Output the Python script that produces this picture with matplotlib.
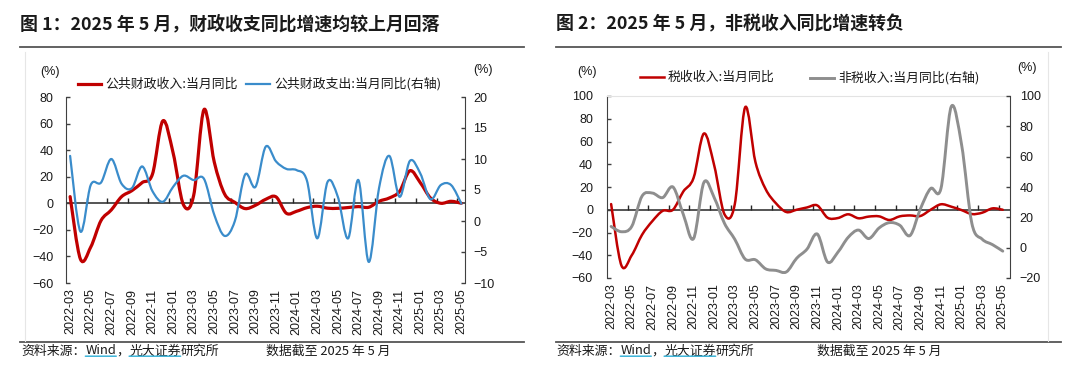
import matplotlib
matplotlib.use("Agg")

import matplotlib.pyplot as plt
import pandas as pd

from matplotlib.path import Path
from matplotlib.patches import PathPatch
from matplotlib.lines import Line2D

plt.rcParams['font.family'] = ['Liberation Sans', 'Noto Sans CJK SC']
cjk = ['Noto Sans CJK SC', 'DejaVu Sans']

months = list(pd.date_range('2022-03-01', '2025-05-01', freq='MS').strftime('%Y-%m'))

# figure 1: public budget revenue / expenditure, monthly yoy (%)
revenue = [5, -42, -33, -13, -5, 5, 9.5, 15.6, 22, 62, 38, -1, 6, 70.5, 31, 7,
           0.7, -4, -1.5, 3, 4.8, -7.5, -6, -3.3, -2.2, -3.7, -3.8, -3.2, -2.5,
           -3, 1.5, 4, 9, 24.5, 15.6, 4, 0, 1.5, 0]
expenditure = [10.5, -1.7, 5.8, 6.2, 10, 6, 5.3, 8.8, 4.8, 3.1, 5.5, 7.3, 6.6,
               6.8, 1.0, -2.4, 0, 7.5, 5.5, 12, 9.6, 8.4, 8.2, 6.5, -2.8, 6.3,
               3.9, -2.8, 6.6, -6.6, 5.3, 10.5, 3.9, 9.7, 7.7, 3.5, 5.8, 5.8, 2.8]

# figure 2: tax / non-tax revenue, monthly yoy (%)
tax = [5, -49, -40, -22, -10, -1, 0, 16, 28, 67, 39, -4, 5, 90, 42, 18, 5.6,
       -2, 0, 2, 3.8, -7, -7.3, -4, -7.5, -6, -5.8, -9, -5.8, -5, -5.5, 0,
       4.8, 2.7, -0.3, -3.8, -2.6, 1.2, 0]
nontax = [14, 10.5, 14, 34, 36, 33, 40, 22, 6, 43, 33, 16, 5.5, -7.5, -8, -14,
          -15, -16, -7, -1, 9, -9.5, -3, 6.8, 11.6, 6, 13, 16.5, 14.8, 8, 25.5,
          39, 39, 93, 68, 16, 5.6, 2, -2.3]

titles = ['图 1：2025 年 5 月，财政收支同比增速均较上月回落',
          '图 2：2025 年 5 月，非税收入同比增速转负']
legend1 = ['公共财政收入:当月同比', '公共财政支出:当月同比(右轴)']
legend2 = ['税收收入:当月同比', '非税收入:当月同比(右轴)']

RED = '#C00000'
BLUE = '#3A8CCB'
GREY = '#8E8E8E'
DARK = '#404040'
W, H = 1080, 375


def smooth_path(ys):
    # Excel style smoothed line: cubic bezier through every point
    xs = list(range(len(ys)))
    n = len(xs)
    verts = [(xs[0], ys[0])]
    codes = [Path.MOVETO]
    for k in range(n - 1):
        a = k - 1 if k > 0 else k
        d = k + 2 if k + 2 < n else k + 1
        c1 = (xs[k] + (xs[k + 1] - xs[a]) / 6, ys[k] + (ys[k + 1] - ys[a]) / 6)
        c2 = (xs[k + 1] - (xs[d] - xs[k]) / 6, ys[k + 1] - (ys[d] - ys[k]) / 6)
        verts += [c1, c2, (xs[k + 1], ys[k + 1])]
        codes += [Path.CURVE4] * 3
    return Path(verts, codes)


def fx(px):
    return px / W


def fy(py):
    return 1 - py / H


def draw_chart(box, left, right, lcolor, rcolor, lw, ylim_l, ylim_r, yt_l, yt_r,
               xmax, pads, top_border):
    ax = fig.add_axes(box)
    axr = ax.twinx()
    ax.set_xlim(-0.4, xmax)
    ax.set_ylim(*ylim_l)
    axr.set_ylim(*ylim_r)
    ax.set_yticks(yt_l)
    axr.set_yticks(yt_r)
    ax.set_xticks(range(0, len(months), 2))
    ax.set_xticklabels(months[::2], rotation=90)
    ax.tick_params(axis='x', length=0, pad=4, labelsize=9, colors='#1a1a1a')
    ax.tick_params(axis='y', direction='in', length=3, width=1, color=DARK,
                   pad=pads[0], labelsize=9, labelcolor='#1a1a1a')
    axr.tick_params(axis='y', direction='in', length=3, width=1, color=DARK,
                    pad=pads[1], labelsize=9, labelcolor='#1a1a1a')
    for a in (ax, axr):
        for s in a.spines.values():
            s.set_visible(False)
    ax.spines['left'].set_visible(True)
    ax.spines['left'].set_color(DARK)
    axr.spines['right'].set_visible(True)
    axr.spines['right'].set_color(DARK)
    if top_border:
        ax.spines['top'].set_visible(True)
        ax.spines['top'].set_color('#E3E3E3')
        ax.spines['top'].set_linewidth(0.8)
    ax.axhline(0, color='#262626', lw=1.1, zorder=1)
    ticks = [i - 0.4 for i in range(2, len(months), 2)]
    ax.plot(ticks, [0] * len(ticks), linestyle='none', marker=2, markersize=3.5,
            markeredgewidth=1, color='#262626', zorder=1)
    ax.add_patch(PathPatch(smooth_path(left), fill=False, edgecolor=lcolor,
                           lw=lw[0], capstyle='round', joinstyle='round', zorder=3))
    axr.add_patch(PathPatch(smooth_path(right), fill=False, edgecolor=rcolor,
                            lw=lw[1], capstyle='round', joinstyle='round', zorder=3))
    return ax, axr


def legend_entry(x0, x1, y, color, lw, label):
    fig.add_artist(Line2D([fx(x0), fx(x1)], [fy(y), fy(y)], color=color, lw=lw))
    fig.text(fx(x1 + 4), fy(y), label, family=cjk, fontsize=9.3, va='center',
             ha='left', color='#1a1a1a')


def source(ax, x, y):
    t0 = fig.text(fx(x), fy(y), '资料来源：', family=cjk, fontsize=9.3,
                  va='center', ha='left', color='#1a1a1a')
    prev = t0
    for piece, link in [('Wind', True), ('，', False), ('光大证券', True),
                        ('研究所', False)]:
        t = ax.annotate(piece, xy=(1, 0), xycoords=prev, va='bottom', ha='left',
                        family=cjk, fontsize=9.3, color='#1a1a1a',
                        annotation_clip=False)
        if link:
            # hyperlink underline
            ax.annotate('', xy=(0, 0.1), xycoords=t, xytext=(1, 0.1),
                        textcoords=t, annotation_clip=False,
                        arrowprops=dict(arrowstyle='-', color='#3CB4D8', lw=1.1,
                                        shrinkA=0, shrinkB=0))
        prev = t


fig = plt.figure(figsize=(W / 100, H / 100), dpi=100)

ax1, ax1r = draw_chart([fx(66), 1 - 283 / H, 399 / W, 186 / H],
                       revenue, expenditure, RED, BLUE, (2.3, 1.6),
                       (-60, 80), (-10, 20), range(-60, 81, 20), range(-10, 21, 5),
                       38.35, (9, 6), False)
ax2, ax2r = draw_chart([fx(607), 1 - 278 / H, 403 / W, 182 / H],
                       tax, nontax, RED, GREY, (1.8, 2.1),
                       (-60, 100), (-20, 100), range(-60, 101, 20), range(-20, 101, 20),
                       38.7, (10, 7), True)

# titles and rules
for x0, x1, title in [(20, 524, titles[0]), (556, 1061, titles[1])]:
    fig.text(fx(x0), fy(24), title, family=cjk, fontsize=12.9, fontweight='bold',
             va='center', ha='left', color='#1a1a1a')
    fig.add_artist(Line2D([fx(x0), fx(x1)], [fy(47), fy(47)], color='#555555', lw=1.3))
    fig.add_artist(Line2D([fx(x0), fx(x1)], [fy(342), fy(342)], color='#555555', lw=1.3))

# faint frame edges
fig.add_artist(Line2D([fx(25), fx(25)], [fy(52), fy(341)], color='#E6E6E6', lw=0.8))
fig.add_artist(Line2D([fx(1048), fx(1048)], [fy(52), fy(341)], color='#E6E6E6', lw=0.8))

# unit labels
for x, y in [(50, 72), (483, 70), (587, 72), (1027, 68)]:
    fig.text(fx(x), fy(y), '(%)', fontsize=9, va='center', ha='center',
             color='#1a1a1a')

legend_entry(78, 101, 84, RED, 2.3, legend1[0])
legend_entry(246, 270, 84, BLUE, 1.6, legend1[1])
legend_entry(640, 664, 77, RED, 1.8, legend2[0])
legend_entry(810, 834, 78, GREY, 2.1, legend2[1])

source(ax1, 21, 351)
source(ax2, 556, 351)
fig.text(fx(266), fy(351), '数据截至 2025 年 5 月', family=cjk, fontsize=9.3,
         va='center', ha='left', color='#1a1a1a')
fig.text(fx(817), fy(351), '数据截至 2025 年 5 月', family=cjk, fontsize=9.3,
         va='center', ha='left', color='#1a1a1a')

plt.savefig('out.png', dpi=100)
